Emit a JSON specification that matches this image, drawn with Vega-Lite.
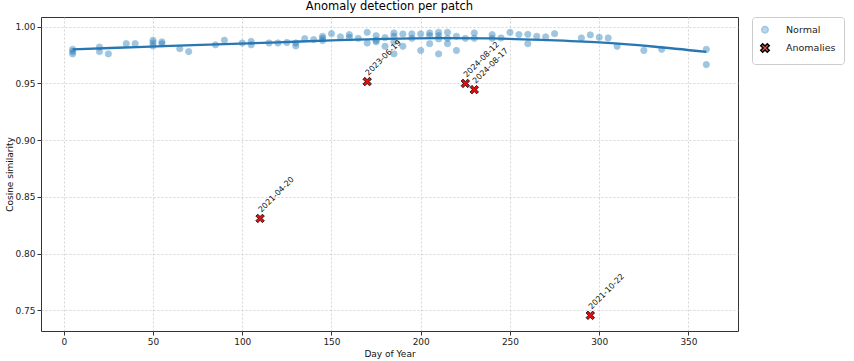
{
  "$schema": "https://vega.github.io/schema/vega-lite/v6.json",
  "width": 697,
  "height": 314,
  "autosize": {"type": "none"},
  "padding": {"left": 41, "top": 17, "right": 116, "bottom": 30},
  "background": "white",
  "title": {"text": "Anomaly detection per patch", "fontSize": 11.5, "font": "DejaVu Sans", "fontWeight": "normal", "color": "black", "offset": 4},
  "config": {
    "font": "DejaVu Sans",
    "view": {"stroke": "#333333", "strokeWidth": 1},
    "axis": {
      "domain": false,
      "grid": true,
      "gridColor": "#c4c4c4",
      "gridDash": [2, 2],
      "gridWidth": 0.7,
      "tickColor": "#333333",
      "tickSize": 4,
      "labelFontSize": 9,
      "labelColor": "#222222",
      "titleFontSize": 9,
      "titleFontWeight": "normal",
      "titleColor": "#111111",
      "labelPadding": 2
    }
  },
  "datasets": {
    "pts": [
      {"doy": 5, "sim": 0.980, "type": "Normal"},
      {"doy": 5, "sim": 0.978, "type": "Normal"},
      {"doy": 5, "sim": 0.976, "type": "Normal"},
      {"doy": 20, "sim": 0.982, "type": "Normal"},
      {"doy": 20, "sim": 0.978, "type": "Normal"},
      {"doy": 25, "sim": 0.976, "type": "Normal"},
      {"doy": 35, "sim": 0.985, "type": "Normal"},
      {"doy": 40, "sim": 0.985, "type": "Normal"},
      {"doy": 50, "sim": 0.988, "type": "Normal"},
      {"doy": 50, "sim": 0.9856, "type": "Normal"},
      {"doy": 50, "sim": 0.983, "type": "Normal"},
      {"doy": 55, "sim": 0.9866, "type": "Normal"},
      {"doy": 55, "sim": 0.9848, "type": "Normal"},
      {"doy": 65, "sim": 0.9806, "type": "Normal"},
      {"doy": 70, "sim": 0.978, "type": "Normal"},
      {"doy": 85, "sim": 0.984, "type": "Normal"},
      {"doy": 90, "sim": 0.988, "type": "Normal"},
      {"doy": 100, "sim": 0.9856, "type": "Normal"},
      {"doy": 105, "sim": 0.987, "type": "Normal"},
      {"doy": 105, "sim": 0.984, "type": "Normal"},
      {"doy": 115, "sim": 0.9856, "type": "Normal"},
      {"doy": 120, "sim": 0.9856, "type": "Normal"},
      {"doy": 125, "sim": 0.986, "type": "Normal"},
      {"doy": 130, "sim": 0.9856, "type": "Normal"},
      {"doy": 130, "sim": 0.983, "type": "Normal"},
      {"doy": 135, "sim": 0.9894, "type": "Normal"},
      {"doy": 140, "sim": 0.9886, "type": "Normal"},
      {"doy": 145, "sim": 0.9915, "type": "Normal"},
      {"doy": 145, "sim": 0.9897, "type": "Normal"},
      {"doy": 145, "sim": 0.9877, "type": "Normal"},
      {"doy": 150, "sim": 0.9938, "type": "Normal"},
      {"doy": 155, "sim": 0.991, "type": "Normal"},
      {"doy": 160, "sim": 0.993, "type": "Normal"},
      {"doy": 160, "sim": 0.9906, "type": "Normal"},
      {"doy": 165, "sim": 0.9897, "type": "Normal"},
      {"doy": 170, "sim": 0.995, "type": "Normal"},
      {"doy": 170, "sim": 0.9856, "type": "Normal"},
      {"doy": 175, "sim": 0.992, "type": "Normal"},
      {"doy": 175, "sim": 0.988, "type": "Normal"},
      {"doy": 175, "sim": 0.9866, "type": "Normal"},
      {"doy": 180, "sim": 0.9903, "type": "Normal"},
      {"doy": 180, "sim": 0.9827, "type": "Normal"},
      {"doy": 185, "sim": 0.9944, "type": "Normal"},
      {"doy": 185, "sim": 0.9915, "type": "Normal"},
      {"doy": 185, "sim": 0.9866, "type": "Normal"},
      {"doy": 185, "sim": 0.976, "type": "Normal"},
      {"doy": 190, "sim": 0.9935, "type": "Normal"},
      {"doy": 190, "sim": 0.9827, "type": "Normal"},
      {"doy": 195, "sim": 0.9936, "type": "Normal"},
      {"doy": 195, "sim": 0.9897, "type": "Normal"},
      {"doy": 200, "sim": 0.9936, "type": "Normal"},
      {"doy": 200, "sim": 0.979, "type": "Normal"},
      {"doy": 205, "sim": 0.9944, "type": "Normal"},
      {"doy": 205, "sim": 0.992, "type": "Normal"},
      {"doy": 205, "sim": 0.985, "type": "Normal"},
      {"doy": 210, "sim": 0.995, "type": "Normal"},
      {"doy": 210, "sim": 0.992, "type": "Normal"},
      {"doy": 210, "sim": 0.9892, "type": "Normal"},
      {"doy": 210, "sim": 0.976, "type": "Normal"},
      {"doy": 215, "sim": 0.995, "type": "Normal"},
      {"doy": 215, "sim": 0.9897, "type": "Normal"},
      {"doy": 215, "sim": 0.985, "type": "Normal"},
      {"doy": 220, "sim": 0.9915, "type": "Normal"},
      {"doy": 220, "sim": 0.979, "type": "Normal"},
      {"doy": 225, "sim": 0.9897, "type": "Normal"},
      {"doy": 230, "sim": 0.9944, "type": "Normal"},
      {"doy": 230, "sim": 0.9897, "type": "Normal"},
      {"doy": 240, "sim": 0.993, "type": "Normal"},
      {"doy": 240, "sim": 0.9897, "type": "Normal"},
      {"doy": 245, "sim": 0.990, "type": "Normal"},
      {"doy": 250, "sim": 0.995, "type": "Normal"},
      {"doy": 255, "sim": 0.993, "type": "Normal"},
      {"doy": 260, "sim": 0.9932, "type": "Normal"},
      {"doy": 260, "sim": 0.985, "type": "Normal"},
      {"doy": 265, "sim": 0.9915, "type": "Normal"},
      {"doy": 270, "sim": 0.991, "type": "Normal"},
      {"doy": 275, "sim": 0.9938, "type": "Normal"},
      {"doy": 290, "sim": 0.990, "type": "Normal"},
      {"doy": 295, "sim": 0.9927, "type": "Normal"},
      {"doy": 300, "sim": 0.9906, "type": "Normal"},
      {"doy": 305, "sim": 0.990, "type": "Normal"},
      {"doy": 310, "sim": 0.9827, "type": "Normal"},
      {"doy": 325, "sim": 0.979, "type": "Normal"},
      {"doy": 335, "sim": 0.980, "type": "Normal"},
      {"doy": 360, "sim": 0.980, "type": "Normal"},
      {"doy": 360, "sim": 0.9666, "type": "Normal"},
      {"doy": 110, "sim": 0.831, "type": "Anomalies", "date": "2021-04-20"},
      {"doy": 170, "sim": 0.9516, "type": "Anomalies", "date": "2023-06-19"},
      {"doy": 225, "sim": 0.950, "type": "Anomalies", "date": "2024-08-12"},
      {"doy": 230, "sim": 0.9445, "type": "Anomalies", "date": "2024-08-17"},
      {"doy": 295, "sim": 0.7456, "type": "Anomalies", "date": "2021-10-22"}
    ],
    "fit": [
      {"doy": 5, "sim": 0.9800},
      {"doy": 30, "sim": 0.9814},
      {"doy": 60, "sim": 0.9831},
      {"doy": 90, "sim": 0.9846},
      {"doy": 120, "sim": 0.9862},
      {"doy": 150, "sim": 0.9879},
      {"doy": 180, "sim": 0.9893},
      {"doy": 210, "sim": 0.9899},
      {"doy": 240, "sim": 0.9896},
      {"doy": 270, "sim": 0.9882},
      {"doy": 300, "sim": 0.9861},
      {"doy": 330, "sim": 0.9825},
      {"doy": 360, "sim": 0.9777}
    ]
  },
  "encoding": {
    "x": {"field": "doy", "type": "quantitative", "scale": {"domain": [-12.75, 377.75], "nice": false, "zero": false}, "axis": {"values": [0, 50, 100, 150, 200, 250, 300, 350], "title": "Day of Year", "titlePadding": 3}},
    "y": {"field": "sim", "type": "quantitative", "scale": {"domain": [0.7318, 1.0085], "nice": false, "zero": false}, "axis": {"values": [0.75, 0.8, 0.85, 0.9, 0.95, 1.0], "format": ".2f", "title": "Cosine similarity", "titlePadding": 0}}
  },
  "layer": [
    {
      "data": {"name": "fit"},
      "mark": {"type": "line", "color": "#2877b3", "strokeWidth": 2.3, "interpolate": "monotone"}
    },
    {
      "data": {"name": "pts"},
      "mark": {"type": "point", "filled": true, "strokeWidth": 0.8},
      "encoding": {
        "fill": {"field": "type", "type": "nominal", "scale": {"domain": ["Normal", "Anomalies"], "range": ["#1f77b4", "#e41010"]}, "legend": {"title": null, "orient": "right", "offset": 14, "labelFontSize": 9.5, "labelColor": "#222222", "symbolSize": 55, "labelOffset": 16, "padding": 8, "strokeColor": "#cccccc", "fillColor": "white", "cornerRadius": 3, "rowPadding": 4}},
        "shape": {"field": "type", "type": "nominal", "scale": {"domain": ["Normal", "Anomalies"], "range": ["circle", "M-1,-0.55L-0.55,-1L0,-0.45L0.55,-1L1,-0.55L0.45,0L1,0.55L0.55,1L0,0.45L-0.55,1L-1,0.55L-0.45,0Z"]}, "legend": {"title": null}},
        "opacity": {"field": "type", "type": "nominal", "scale": {"domain": ["Normal", "Anomalies"], "range": [0.42, 1]}, "legend": {"title": null}},
        "stroke": {"field": "type", "type": "nominal", "scale": {"domain": ["Normal", "Anomalies"], "range": ["#1f77b4", "#000000"]}, "legend": {"title": null}},
        "size": {"field": "type", "type": "nominal", "scale": {"domain": ["Normal", "Anomalies"], "range": [40, 72]}, "legend": {"title": null}}
      }
    },
    {
      "data": {"name": "pts"},
      "transform": [{"filter": "datum.type === 'Anomalies'"}],
      "mark": {"type": "text", "angle": 315, "align": "left", "baseline": "bottom", "dx": 5, "dy": -1, "fontSize": 8, "color": "#111111"},
      "encoding": {"text": {"field": "date", "type": "nominal"}}
    }
  ]
}
